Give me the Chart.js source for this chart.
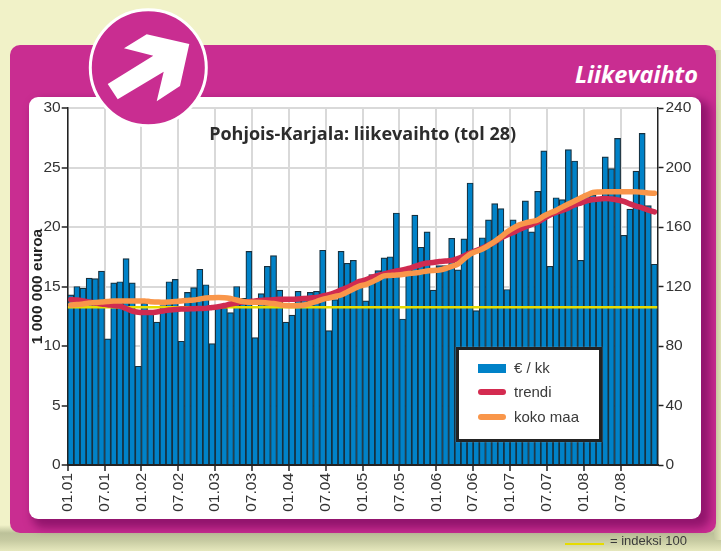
<!DOCTYPE html>
<html><head><meta charset="utf-8">
<script src="https://cdn.jsdelivr.net/npm/chart.js@4"></script>
<style>
html,body{margin:0;padding:0;width:721px;height:551px;overflow:hidden;background:#f1f2c8;font-family:"Liberation Sans",sans-serif}
#page{position:absolute;left:0;top:0;width:721px;height:551px;background:linear-gradient(to bottom,#f1f2c8 0,#f1f2c8 525px,#bcc199 533px,#c5c9a0 540px,#e6e8bd 551px)}
#side{position:absolute;left:714px;top:50px;width:7px;height:490px;background:linear-gradient(to right,#c3c79f,#dfe1b6)}
#panel{position:absolute;left:10px;top:45px;width:706px;height:488px;background:#c92d91;border-radius:10px}
#white{position:absolute;left:29px;top:97px;width:672px;height:422px;background:#fff;border-radius:9px;box-shadow:6px 6px 9px 3px rgba(110,5,85,.6)}
#head{position:absolute;right:23px;top:59px;color:#fff;font:italic bold 23.5px "Open Sans",sans-serif;line-height:30px}
#c{position:absolute;left:0;top:0}
#badge{position:absolute;left:0;top:0}
#legend{position:absolute;left:456px;top:347px;width:140px;height:89px;border:3px solid #222;background:#fff;color:#3a3a3a;font-size:15px;box-shadow:0 0 1px #999}
#legend div{position:absolute;left:55px;line-height:20px;white-space:nowrap}
#legend i{position:absolute;left:19px;width:28px}
#note{position:absolute;left:610px;top:532px;font-size:13px;color:#3a3a3a;line-height:18px;white-space:nowrap}
#noteLine{position:absolute;left:565px;top:543px;width:39px;height:2px;background:#e6dc00}
</style></head><body>
<div id="page"></div><div id="side"></div>
<div id="panel"></div><div id="white"></div>
<div id="head">Liikevaihto</div>
<canvas id="c" width="721" height="551"></canvas>
<svg id="badge" width="721" height="551" viewBox="0 0 721 551">
<circle cx="148.3" cy="67.8" r="58" fill="#c92d91" stroke="#fff" stroke-width="3"/>
<polygon fill="#fff" points="146.7,34.3 189.3,44 180,86 156.7,101.3 163.7,71.7 117.7,99.3 107.7,84 153.3,55.7 124,48.3"/>
</svg>
<div id="legend">
<i style="top:14px;height:9px;background:#0082c8"></i><div style="top:8px">€ / kk</div>
<i style="top:39px;height:6px;border-radius:3px;background:#d42b50"></i><div style="top:32px">trendi</div>
<i style="top:64px;height:6px;border-radius:3px;background:#f9964a"></i><div style="top:57px">koko maa</div>
</div>
<div id="noteLine"></div><div id="note">= indeksi 100</div>
<script>
const xTickLabels=['01.01','07.01','01.02','07.02','01.03','07.03','01.04','07.04','01.05','07.05','01.06','07.06','01.07','07.07','01.08','07.08'];
const euroPerMonth=[14.3,15.0,14.87,15.7,15.66,16.3,10.6,15.3,15.4,17.35,15.3,8.3,13.6,12.8,12.0,13.4,15.4,15.6,10.4,14.5,14.9,16.45,15.15,10.2,13.2,13.2,12.8,15.0,14.0,17.95,10.7,14.4,16.7,17.6,14.7,12.0,12.6,14.6,14.2,14.5,14.6,18.05,11.3,13.9,17.96,16.95,17.2,15.0,
13.8,16.0,16.33,17.4,17.5,21.18,12.27,16.5,21.0,18.3,19.6,14.7,16.75,16.75,19.05,16.4,19.0,23.7,12.97,19.1,20.6,21.96,21.55,14.75,20.6,20.0,22.2,19.6,23.0,26.4,16.7,22.46,22.3,26.5,25.55,17.2,22.8,22.7,22.5,25.9,24.9,27.45,19.3,21.5,24.7,27.87,21.8,16.87];
const trendi=[111.3,110.9,110.3,109.6,108.9,108.2,107.8,107.2,106.9,105.2,103.5,102.7,102.5,102.5,102.9,103.5,104.2,104.5,104.9,104.9,105.1,105.2,105.3,105.9,106.4,107.2,108.2,108.9,109.6,109.8,110.3,110.6,110.9,111.1,111.4,111.4,111.4,111.6,111.9,112.3,112.7,113.6,114.6,116,117.7,119.3,121.4,123.4,
124.4,126.1,127.4,128.4,129.4,130.4,131.1,132.1,133.5,134.8,135.8,136.1,136.8,137.1,137.6,138.8,140.5,142.5,144.2,145.9,147.9,149.9,152.6,154.6,156.3,158.3,160,161.7,163.4,165.7,168.1,169.8,171.1,172.8,174.8,176.1,177.5,178.5,178.8,179.2,178.8,178.2,177.2,175.5,174.1,172.8,171.4,170.1];
const kokoMaa=[107.6,107.9,108.2,108.9,109.2,109.6,109.9,110.3,110.3,110.3,110.3,110.3,110.3,109.8,109.6,109.4,109.6,109.9,110.3,110.6,110.9,111.6,112.3,112.5,112.6,112.5,111.9,110.9,109.9,109.4,109.4,109.2,108.9,108.6,107.9,107.2,107.1,107.2,107.6,108.6,109.9,111.3,112.3,113.3,114.3,116.3,118.3,120.3,
121.3,123,125.1,127.1,127.4,127.7,128.1,128.8,129.1,129.7,130.4,130.8,131.1,132.1,133.5,135.1,138.5,141.8,143.5,145.2,147.6,150.3,153.3,156.6,159.3,161.4,162.7,163.7,164.7,167.4,169.4,171.1,173.4,175.5,177.5,179.5,181.5,183.2,183.5,183.7,183.7,183.7,183.7,183.7,183.7,183.3,182.9,182.7];
const indeksi100=[106,106];
const titleText='Pohjois-Karjala: liikevaihto (tol 28)';
const yTitle='1 000 000 euroa';

const monthly=a=>a.map((y,i)=>({x:i+0.5,y}));
const AREA={l:67.7,r:657.5,t:108,b:465};
const tickFont={family:'"Liberation Sans"',size:15.5};
new Chart(document.getElementById('c'),{
 type:'bar',
 data:{datasets:[
  {type:'line',label:'koko maa',data:monthly(kokoMaa),yAxisID:'y1',borderColor:'#f9964a',borderWidth:5.5,pointRadius:0,tension:.3,order:1,borderCapStyle:'round'},
  {type:'line',label:'trendi',data:monthly(trendi),yAxisID:'y1',borderColor:'#d02b50',borderWidth:5.5,pointRadius:0,tension:.3,order:2,borderCapStyle:'round'},
  {type:'line',label:'indeksi 100',data:[{x:0,y:indeksi100[0]},{x:96,y:indeksi100[1]}],yAxisID:'y1',borderColor:'#e6dc00',borderWidth:2.5,pointRadius:0,order:3},
  {type:'bar',label:'€ / kk',data:monthly(euroPerMonth),yAxisID:'y',backgroundColor:'#0082c8',borderColor:'#17303e',borderWidth:1.2,barThickness:6.14,order:4}
 ]},
 options:{
  responsive:false,animation:false,
  layout:{padding:{left:28,right:20,top:86.4,bottom:30}},
  plugins:{legend:{display:false},tooltip:{enabled:false},
   title:{display:true,text:titleText,color:'#2c2c2c',padding:0,font:{family:'"Open Sans"',weight:'bold',size:18,lineHeight:1.2}}},
  scales:{
   x:{type:'linear',min:0,max:96,offset:false,
    afterFit(s){s.height=56;},
    afterBuildTicks(s){s.ticks=xTickLabels.map((_,i)=>({value:i*6}));},
    ticks:{stepSize:6,autoSkip:false,maxRotation:90,minRotation:90,color:'#333',font:tickFont,padding:2,callback:v=>xTickLabels[v/6]??''},
    grid:{offset:false,color:'#d9d9d9',lineWidth:2,tickColor:'#222',tickWidth:1.5,tickLength:6},
    border:{color:'#222',width:2}},
   y:{position:'left',min:0,max:30,
    afterFit(s){s.width=39.7;},
    ticks:{stepSize:5,color:'#333',font:tickFont,padding:1},
    grid:{color:'#d9d9d9',lineWidth:2,tickColor:'#222',tickWidth:1.5,tickLength:6},
    border:{color:'#222',width:1.5},
    title:{display:true,text:yTitle,color:'#222',padding:{top:0,bottom:0},font:{family:'"Liberation Sans"',weight:'bold',size:15.5}}},
   y1:{position:'right',min:0,max:240,
    afterFit(s){s.width=43.5;},
    ticks:{stepSize:40,color:'#333',font:tickFont,padding:2},
    grid:{drawOnChartArea:false,tickColor:'#222',tickWidth:1.5,tickLength:6},
    border:{color:'#222',width:1.5}}
  }
 },
 plugins:[{id:'placeTitle',afterLayout(ch){const t=ch.titleBlock;t.left=AREA.l;t.right=AREA.r;t.top=124;t.bottom=146;}}]
});
</script>
</body></html>
